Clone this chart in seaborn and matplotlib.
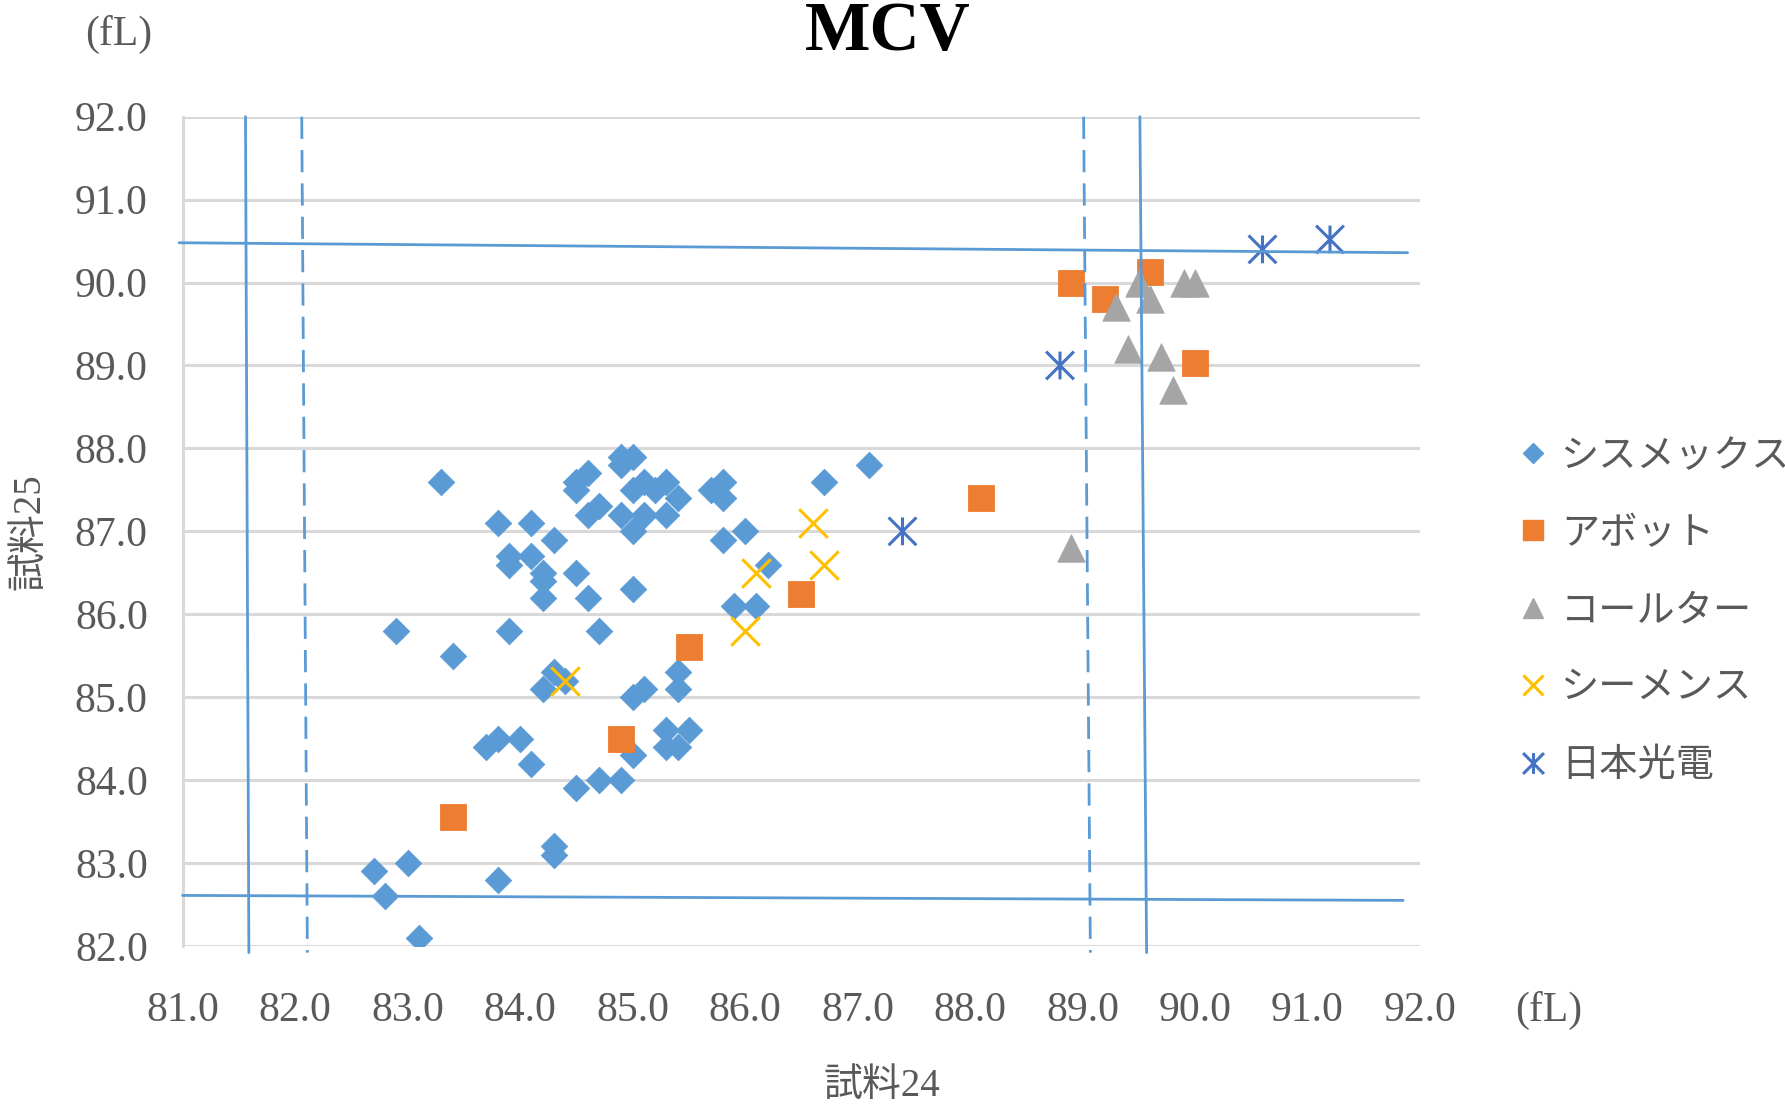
import matplotlib
matplotlib.use("Agg")
import matplotlib.pyplot as plt
from matplotlib.path import Path
from matplotlib.lines import Line2D
import seaborn as sns

#%% dati

# シスメックス (rombi)
sysmex_x = [83.3, 83.8, 84.1, 84.3, 83.9, 84.1, 83.9, 84.2, 84.2, 84.2,
            84.5, 84.6, 85.0, 82.9, 83.4, 83.9, 84.7, 84.9, 85.0, 84.9,
            84.6, 84.5, 84.5, 84.6, 84.7, 84.9, 85.0, 85.0, 85.1, 85.1,
            85.3, 85.3, 85.4, 85.2, 85.8, 85.7, 85.8, 85.8, 86.0, 86.7,
            87.1, 86.2, 85.9, 86.1,
            84.3, 84.4, 84.2, 85.0, 85.1, 85.4, 85.4, 83.7, 83.8, 84.0,
            84.1, 84.5, 84.7, 84.9, 85.0, 85.3, 85.5, 85.3, 85.4, 84.3,
            84.3, 83.8, 82.7, 83.0, 82.8, 83.1]
sysmex_y = [87.6, 87.1, 87.1, 86.9, 86.7, 86.7, 86.6, 86.5, 86.4, 86.2,
            86.5, 86.2, 86.3, 85.8, 85.5, 85.8, 85.8, 87.9, 87.9, 87.8,
            87.7, 87.6, 87.5, 87.2, 87.3, 87.2, 87.0, 87.5, 87.6, 87.2,
            87.6, 87.2, 87.4, 87.5, 87.6, 87.5, 87.4, 86.9, 87.0, 87.6,
            87.8, 86.6, 86.1, 86.1,
            85.3, 85.2, 85.1, 85.0, 85.1, 85.3, 85.1, 84.4, 84.5, 84.5,
            84.2, 83.9, 84.0, 84.0, 84.3, 84.6, 84.6, 84.4, 84.4, 83.2,
            83.1, 82.8, 82.9, 83.0, 82.6, 82.1]

# アボット (quadrati)
abbott_x = [83.4, 84.9, 85.5, 86.5, 88.1, 88.9, 89.2, 89.6, 90.0]
abbott_y = [83.55, 84.5, 85.6, 86.25, 87.4, 90.0, 89.8, 90.13, 89.03]

# コールター (triangoli)
coulter_x = [88.9, 89.3, 89.4, 89.5, 89.6, 89.7, 89.8, 89.9, 90.0]
coulter_y = [86.8, 89.7, 89.2, 90.0, 89.8, 89.1, 88.7, 90.0, 90.0]

# シーメンス (croci)
siemens_x = [84.4, 86.0, 86.1, 86.6, 86.7]
siemens_y = [85.2, 85.8, 86.5, 87.1, 86.6]

# 日本光電 (asterischi)
nihon_x = [87.4, 88.8, 90.6, 91.2]
nihon_y = [87.0, 89.0, 90.4, 90.52]

# linee dei limiti
left_solid_x, left_solid_y = [81.56, 81.59], [92.0, 81.92]
left_dash_x, left_dash_y = [82.06, 82.11], [92.0, 81.92]
right_dash_x, right_dash_y = [89.01, 89.07], [92.0, 81.92]
right_solid_x, right_solid_y = [89.51, 89.57], [92.0, 81.92]
top_x, top_y = [80.97, 91.89], [90.48, 90.36]
bottom_x, bottom_y = [81.0, 91.85], [82.61, 82.55]

series_names = ["シスメックス", "アボット", "コールター", "シーメンス", "日本光電"]
x_ticks = [81, 82, 83, 84, 85, 86, 87, 88, 89, 90, 91, 92]
y_ticks = [82, 83, 84, 85, 86, 87, 88, 89, 90, 91, 92]

#%% stile

sns.set_theme(style="white")
plt.rcParams["font.family"] = ["Liberation Serif", "Noto Sans CJK JP"]

grey_txt = "#595959"
grid_col = "#D9D9D9"
line_col = "#5B9BD5"
colors = ["#5B9BD5", "#ED7D31", "#A5A5A5", "#FFC000", "#4472C4"]

# asterisco stile Excel: X + barra verticale
aster = Path([(-1, -1), (1, 1), (-1, 1), (1, -1), (0, -1), (0, 1)],
             [Path.MOVETO, Path.LINETO] * 3)

fig, ax = plt.subplots(figsize=(17.85, 11.04), dpi=100)
fig.subplots_adjust(left=182.5 / 1785, right=1420 / 1785,
                    bottom=1 - 946 / 1104, top=1 - 116.7 / 1104)

# griglia
for yt in y_ticks:
    ax.axhline(yt, color=grid_col, lw=2.2, zorder=0)

sns.scatterplot(x=sysmex_x, y=sysmex_y, marker="D", s=182, color=colors[0],
                edgecolor=colors[0], linewidth=0.6, ax=ax, zorder=3)
sns.scatterplot(x=abbott_x, y=abbott_y, marker="s", s=330, color=colors[1],
                edgecolor=colors[1], linewidth=0.6, ax=ax, zorder=3)
sns.scatterplot(x=coulter_x, y=coulter_y, marker="^", s=390, color=colors[2],
                edgecolor=colors[2], linewidth=0.6, ax=ax, zorder=3)
sns.scatterplot(x=siemens_x, y=siemens_y, marker="x", s=420, color=colors[3],
                edgecolor=colors[3], linewidth=2.2, ax=ax, zorder=3)
sns.scatterplot(x=nihon_x, y=nihon_y, marker=aster, s=400, color=colors[4],
                edgecolor=colors[4], facecolor="none", linewidth=2.2, ax=ax, zorder=3)

# linee limite
for lx, ly, ls in [(left_solid_x, left_solid_y, "-"), (left_dash_x, left_dash_y, "--"),
                   (right_dash_x, right_dash_y, "--"), (right_solid_x, right_solid_y, "-"),
                   (top_x, top_y, "-"), (bottom_x, bottom_y, "-")]:
    ln, = ax.plot(lx, ly, color=line_col, lw=2.0, ls=ls, zorder=4, clip_on=False)
    if ls == "--":
        ln.set_dashes((8, 4))

ax.set_xlim(81, 92)
ax.set_ylim(82, 92)
ax.set_xticks(x_ticks)
ax.set_yticks(y_ticks)
ax.set_xticklabels([f"{v:.1f}" for v in x_ticks])
ax.set_yticklabels([f"{v:.1f}" for v in y_ticks])
ax.tick_params(axis="both", length=0, labelsize=30, labelcolor=grey_txt)
ax.tick_params(axis="y", pad=25)
ax.tick_params(axis="x", pad=33)
for sp in ["top", "right", "bottom"]:
    ax.spines[sp].set_visible(False)
ax.spines["left"].set_color(grid_col)
ax.spines["left"].set_linewidth(2.2)
ax.set_xlabel("")
ax.set_ylabel("")

# testi
fig.text(0.4975, 1 - 50 / 1104, "MCV", ha="center", va="baseline", fontsize=50,
         fontweight="bold", color="black")
fig.text(0.0475, 0.969, "(fL)", ha="left", va="center", fontsize=30, color=grey_txt)
fig.text(0.849, 0.085, "(fL)", ha="left", va="center", fontsize=30, color=grey_txt)
fig.text(0.494, 0.0155, "試料24", ha="center", va="center", fontsize=28, color=grey_txt)
fig.text(0.0168, 0.518, "試料25", ha="center", va="center", fontsize=28,
         color=grey_txt, rotation=90)

# legenda
handles = [
    Line2D([], [], ls="none", marker="D", ms=10, color=colors[0], mec=colors[0]),
    Line2D([], [], ls="none", marker="s", ms=14, color=colors[1], mec=colors[1]),
    Line2D([], [], ls="none", marker="^", ms=15, color=colors[2], mec=colors[2]),
    Line2D([], [], ls="none", marker="x", ms=15, color=colors[3], mew=2.2),
    Line2D([], [], ls="none", marker=aster, ms=15, color=colors[4], mew=2.2),
]
fig.legend(handles, series_names, loc="center left",
           bbox_to_anchor=(0.851, 1 - 612 / 1104), frameon=False,
           fontsize=27.5, labelcolor=grey_txt, handlelength=0.75,
           handletextpad=0.35, labelspacing=1.11, borderpad=0, borderaxespad=0)

fig.savefig("out.png", dpi=100)
